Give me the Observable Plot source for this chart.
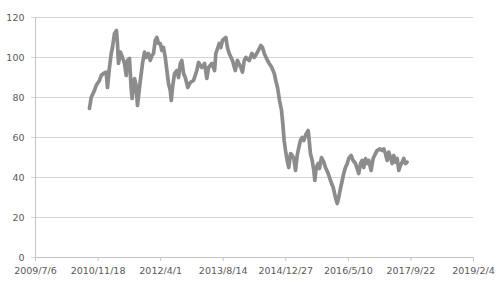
<!DOCTYPE html>
<html>
<head>
<meta charset="utf-8">
<script src="https://cdn.jsdelivr.net/npm/d3@7"></script>
<script src="https://cdn.jsdelivr.net/npm/@observablehq/plot@0.6"></script>
<style>
  html, body { margin: 0; padding: 0; background: #ffffff; }
  #chart { width: 500px; height: 285px; }
</style>
</head>
<body>
<div id="chart"></div>
<script>
const dates = [
  "2010-09-10","2010-09-24","2010-10-20","2010-11-03","2010-11-29","2010-12-13","2010-12-31","2011-01-22",
  "2011-02-01","2011-02-17","2011-03-03","2011-03-13","2011-03-29","2011-04-14","2011-04-22","2011-04-30",
  "2011-05-16","2011-06-01","2011-06-17","2011-07-01","2011-07-11","2011-07-27","2011-08-09","2011-08-17",
  "2011-09-05","2011-09-18","2011-09-29","2011-10-15","2011-11-08","2011-11-24","2011-12-07","2011-12-26",
  "2012-01-09","2012-01-23","2012-02-04","2012-02-18","2012-03-02","2012-03-15","2012-03-29","2012-04-11",
  "2012-04-24","2012-05-08","2012-05-21","2012-06-03","2012-06-17","2012-06-25","2012-07-05","2012-07-21",
  "2012-08-08","2012-08-22","2012-09-05","2012-09-17","2012-10-01","2012-10-15","2012-11-04","2012-11-24",
  "2012-12-20","2013-01-15","2013-01-29","2013-02-24","2013-03-18","2013-04-05","2013-04-19","2013-05-15",
  "2013-06-06","2013-06-16","2013-07-13","2013-07-26","2013-08-08","2013-09-04","2013-09-17","2013-10-01",
  "2013-10-27","2013-11-18","2013-12-06","2014-01-02","2014-01-15","2014-01-29","2014-02-11","2014-03-10",
  "2014-03-31","2014-04-19","2014-05-15","2014-06-10","2014-06-24","2014-07-08","2014-08-03","2014-08-17",
  "2014-09-06","2014-09-26","2014-10-08","2014-10-22","2014-11-07","2014-11-23","2014-12-03","2014-12-14",
  "2014-12-25","2015-01-07","2015-01-20","2015-02-03","2015-02-16","2015-03-01","2015-03-15","2015-03-28",
  "2015-04-10","2015-04-23","2015-05-07","2015-05-20","2015-06-02","2015-06-24","2015-07-02","2015-07-12",
  "2015-07-26","2015-08-08","2015-08-16","2015-08-27","2015-09-12","2015-09-22","2015-10-08","2015-10-27",
  "2015-11-09","2015-12-01","2015-12-19","2016-01-10","2016-01-28","2016-02-11","2016-02-23","2016-03-08",
  "2016-03-22","2016-04-03","2016-04-17","2016-05-01","2016-05-13","2016-06-01","2016-06-17","2016-07-06",
  "2016-07-19","2016-08-01","2016-08-15","2016-08-28","2016-09-10","2016-09-24","2016-10-07","2016-10-20",
  "2016-11-08","2016-11-24","2016-12-13","2016-12-26","2017-01-16","2017-02-04","2017-02-17","2017-03-02",
  "2017-03-16","2017-03-29","2017-04-11","2017-04-25","2017-05-08","2017-05-21","2017-06-04","2017-06-17",
  "2017-06-30","2017-07-14","2017-07-27","2017-08-09","2017-08-23"
];
const prices = [
  74.5,80,83.5,86,88.5,91,92,92.7,
  85,95,102,105,112,113.5,107,97,
  102.7,100,97,91,98.5,99.5,85,79.5,
  89.5,86,76,85,97,102.7,100,102,
  98.5,101,102,108.5,110,107,107,103.5,
  105,100,93.5,87,83.5,78.5,85,92,
  93.5,90,97,98.5,92,90,85,87.5,
  88.5,93.5,97.5,95,97,89.5,95,97,
  93.5,102,107,105,108.5,110,105,102,
  98.5,93.5,98.5,95,92.7,98.5,100,98.5,
  102,100,102.7,106,105,102,98.5,97,
  95,92,88.5,85,78.5,73.5,67,58.5,
  53.5,48.5,45,52,51,49.5,43.5,51,
  55,58.5,60,58.5,61,63.5,58.5,52,
  48.5,43.5,38.5,45,47,44.5,50,47.7,
  45,42,38.5,35,30,27,30,34.5,
  38.5,42,45,47,49.5,51,48.5,47,
  44.5,42,47,48.5,45,49.5,47,48.5,
  43.5,49.5,52,53.5,54.3,53.5,54.3,52,
  48.5,52.7,50,47,51,47.7,49.5,43.5,
  46,47.7,49.5,47,47.7
];
const xTickLabels = ["2009/7/6","2010/11/18","2012/4/1","2013/8/14","2014/12/27","2016/5/10","2017/9/22","2019/2/4"];
const yTicks = [0, 20, 40, 60, 80, 100, 120];

const parseIso = d3.utcParse("%Y-%m-%d");
const parseSlash = d3.utcParse("%Y/%m/%d");
const xTicks = xTickLabels.map(s => parseSlash(s));
const fmt = d => `${d.getUTCFullYear()}/${d.getUTCMonth() + 1}/${d.getUTCDate()}`;
const data = dates.map((d, i) => ({date: parseIso(d), value: prices[i]}));

const chart = Plot.plot({
  width: 500,
  height: 285,
  marginLeft: 35,
  marginRight: 27,
  marginTop: 17,
  marginBottom: 28,
  style: {fontFamily: "'DejaVu Sans', sans-serif", fontSize: "9.5px", color: "#595959", background: "#ffffff"},
  x: {type: "utc", domain: [xTicks[0], xTicks[xTicks.length - 1]]},
  y: {domain: [0, 120]},
  marks: [
    Plot.gridY(yTicks, {stroke: "#d4d4d4", strokeOpacity: 1, strokeWidth: 1}),
    Plot.axisY(yTicks, {tickSize: 4, tickPadding: 7, stroke: "#d4d4d4", fill: "#595959", fontSize: 9.5, label: null}),
    Plot.ruleX([xTicks[0]], {stroke: "#c4c4c4", strokeWidth: 1}),
    Plot.ruleY([0], {stroke: "#c4c4c4", strokeWidth: 1}),
    Plot.axisX(xTicks, {tickSize: 4, tickPadding: 6, tickFormat: fmt, stroke: "#c4c4c4", fill: "#595959", fontSize: 9.5, label: null}),
    Plot.line(data, {x: "date", y: "value", stroke: "#8c8c8c", strokeWidth: 3.7, strokeLinejoin: "round"})
  ]
});
document.getElementById("chart").appendChild(chart);
</script>
</body>
</html>
